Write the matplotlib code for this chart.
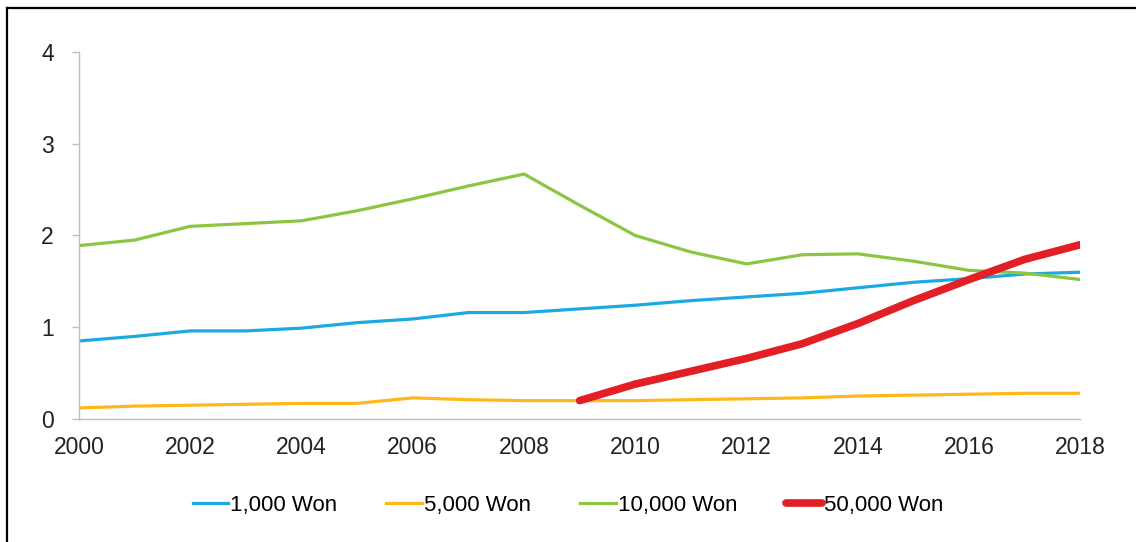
import numpy as np
import matplotlib; matplotlib.use("Agg")
import matplotlib.pyplot as plt
from matplotlib.lines import Line2D

plt.rcParams["font.family"] = ["Liberation Sans", "DejaVu Sans"]

years = list(range(2000, 2019))
won_1000 = [0.85, 0.90, 0.96, 0.96, 0.99, 1.05, 1.09, 1.16, 1.16, 1.20, 1.24, 1.29, 1.33, 1.37, 1.43, 1.49, 1.53, 1.58, 1.60]
won_5000 = [0.12, 0.14, 0.15, 0.16, 0.17, 0.17, 0.23, 0.21, 0.20, 0.20, 0.20, 0.21, 0.22, 0.23, 0.25, 0.26, 0.27, 0.28, 0.28]
won_10000 = [1.89, 1.95, 2.10, 2.13, 2.16, 2.27, 2.40, 2.54, 2.67, 2.33, 2.00, 1.82, 1.69, 1.79, 1.80, 1.72, 1.62, 1.59, 1.52]
years_50000 = list(range(2009, 2019))
won_50000 = [0.20, 0.38, 0.52, 0.66, 0.82, 1.04, 1.29, 1.52, 1.74, 1.90]
labels = ["1,000 Won", "5,000 Won", "10,000 Won", "50,000 Won"]

fig = plt.figure(figsize=(11.36, 5.42), dpi=100)
ax = fig.add_axes([0.0695, 0.227, 0.8815, 0.677])

ax.plot(years, won_1000, color="#1BA9E1", lw=2.3, label=labels[0])
ax.plot(years, won_5000, color="#FFB81C", lw=2.3, label=labels[1])
ax.plot(years, won_10000, color="#8CC540", lw=2.3, label=labels[2])
ax.plot(years_50000, won_50000, color="#E31E24", lw=5.5, solid_capstyle="round", label=labels[3])

ax.set_xlim(2000, 2018)
ax.set_ylim(0, 4)
ax.set_xticks(range(2000, 2019, 2))
ax.set_yticks([0, 1, 2, 3, 4])
for s in ["top", "right"]:
    ax.spines[s].set_visible(False)
for s in ["left", "bottom"]:
    ax.spines[s].set_color("#BFBFBF")
    ax.spines[s].set_linewidth(1.0)
ax.tick_params(axis="x", length=0, pad=12, labelsize=16.5, colors="#222222")
ax.tick_params(axis="y", length=5, width=1, color="#BFBFBF", pad=13, labelsize=16.5, labelcolor="#222222")

fig.legend(loc="center", bbox_to_anchor=(0.5, 0.068), ncol=4, frameon=False, fontsize=16,
           handlelength=1.6, handletextpad=0.1, columnspacing=2.2)

# partial frame around the figure
fig.add_artist(Line2D([7/1136, 7/1136], [0, 1 - 8/542], color="black", lw=1.6, transform=fig.transFigure))
fig.add_artist(Line2D([7/1136, 1], [1 - 8/542, 1 - 8/542], color="black", lw=1.6, transform=fig.transFigure))

fig.savefig("out.png", dpi=100)
